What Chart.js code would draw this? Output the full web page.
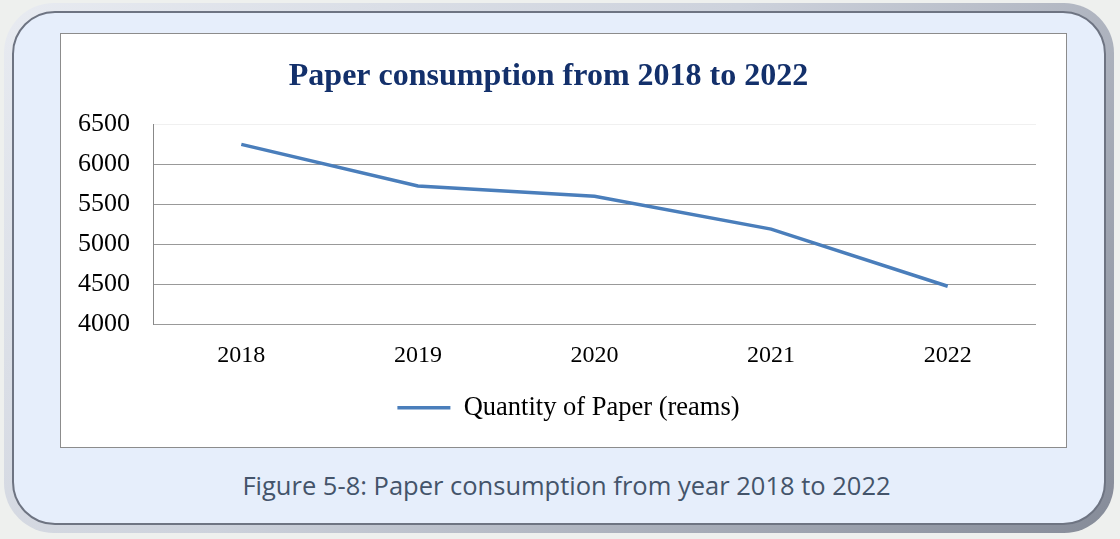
<!DOCTYPE html>
<html>
<head>
<meta charset="utf-8">
<script src="https://cdn.jsdelivr.net/npm/chart.js@4.4.1/dist/chart.umd.min.js"></script>
<style>
  html, body { margin: 0; padding: 0; }
  body { width: 1120px; height: 539px; background: #eef0ee; position: relative; overflow: hidden; font-family: "Liberation Serif", serif; }
  .frame {
    position: absolute; left: 4px; top: 3px; width: 1110px; height: 530px;
    border-radius: 50px; box-sizing: border-box; padding: 8px;
    background: linear-gradient(135deg, #e8ebf1 0%, #cdd2dc 45%, #858b98 100%);
  }
  .frame-inner {
    width: 100%; height: 100%; box-sizing: border-box;
    border: 2px solid #6e7482; border-radius: 43px; background: #e6eefb;
  }
  .plotbox {
    position: absolute; left: 60px; top: 33px; width: 1007px; height: 415px;
    box-sizing: border-box; border: 1px solid #8c8c8c; background: #fff;
  }
  .caption {
    position: absolute; left: 0; width: 1133px; top: 468px; text-align: center;
    font-family: "Open Sans", sans-serif; font-size: 25.5px; color: #44546a;
  }
</style>
</head>
<body>
<div class="frame"><div class="frame-inner"></div></div>
<div class="plotbox"><canvas id="paperChart" width="1005" height="413"></canvas></div>
<div class="caption">Figure 5-8: Paper consumption from year 2018 to 2022</div>
<script>
// chart data
const years = ['2018', '2019', '2020', '2021', '2022'];
const reams = [6250, 5730, 5600, 5190, 4475];
const seriesName = 'Quantity of Paper (reams)';
const chartTitle = 'Paper consumption from 2018 to 2022';
const yMin = 4000, yMax = 6500, yStep = 500;

const lineBlue = '#4a7ebb';
const gridGray = '#999999';

// the legend in the original sits a little right of the canvas centre
const legendShift = {
    id: 'legendShift',
    afterLayout(chart) {
        if (chart.legend) {
            chart.legend.left += 20;
            chart.legend.right += 20;
        }
    }
};

const ctx = document.getElementById('paperChart').getContext('2d');

new Chart(ctx, {
    type: 'line',
    data: {
        labels: years,
        datasets: [{
            label: seriesName,
            data: reams,
            borderColor: lineBlue,
            backgroundColor: lineBlue,
            borderWidth: 3.5,
            pointRadius: 0,
            tension: 0,
            fill: false
        }]
    },
    options: {
        responsive: false,
        animation: false,
        layout: { padding: { left: 0, right: 30, top: 0, bottom: 16 } },
        scales: {
            x: {
                offset: true,
                grid: { display: false },
                border: { display: false },
                ticks: {
                    color: '#000',
                    padding: 9,
                    font: { family: 'Liberation Serif', size: 24 }
                }
            },
            y: {
                min: yMin,
                max: yMax,
                afterFit: (scale) => { scale.width = 92; },
                grid: {
                    drawTicks: false,
                    color: (c) => (c.tick && c.tick.value === yMax) ? '#f0f0f0' : gridGray
                },
                border: { display: true, color: '#888888', width: 1 },
                ticks: {
                    stepSize: yStep,
                    color: '#000',
                    padding: 23,
                    font: { family: 'Liberation Serif', size: 26 },
                    callback: (v) => String(v) // no thousands separator
                }
            }
        },
        plugins: {
            title: {
                display: true,
                text: chartTitle,
                color: '#13306b',
                font: { family: 'Liberation Serif', size: 32, weight: 'bold' },
                padding: { top: 24, bottom: 28 }
            },
            legend: {
                display: true,
                position: 'bottom',
                labels: {
                    usePointStyle: true,
                    pointStyle: 'line',
                    pointStyleWidth: 53,
                    color: '#000',
                    padding: 15.5,
                    font: { family: 'Liberation Serif', size: 26.5 }
                }
            },
            tooltip: { enabled: false }
        }
    },
    plugins: [legendShift]
});
</script>
</body>
</html>
